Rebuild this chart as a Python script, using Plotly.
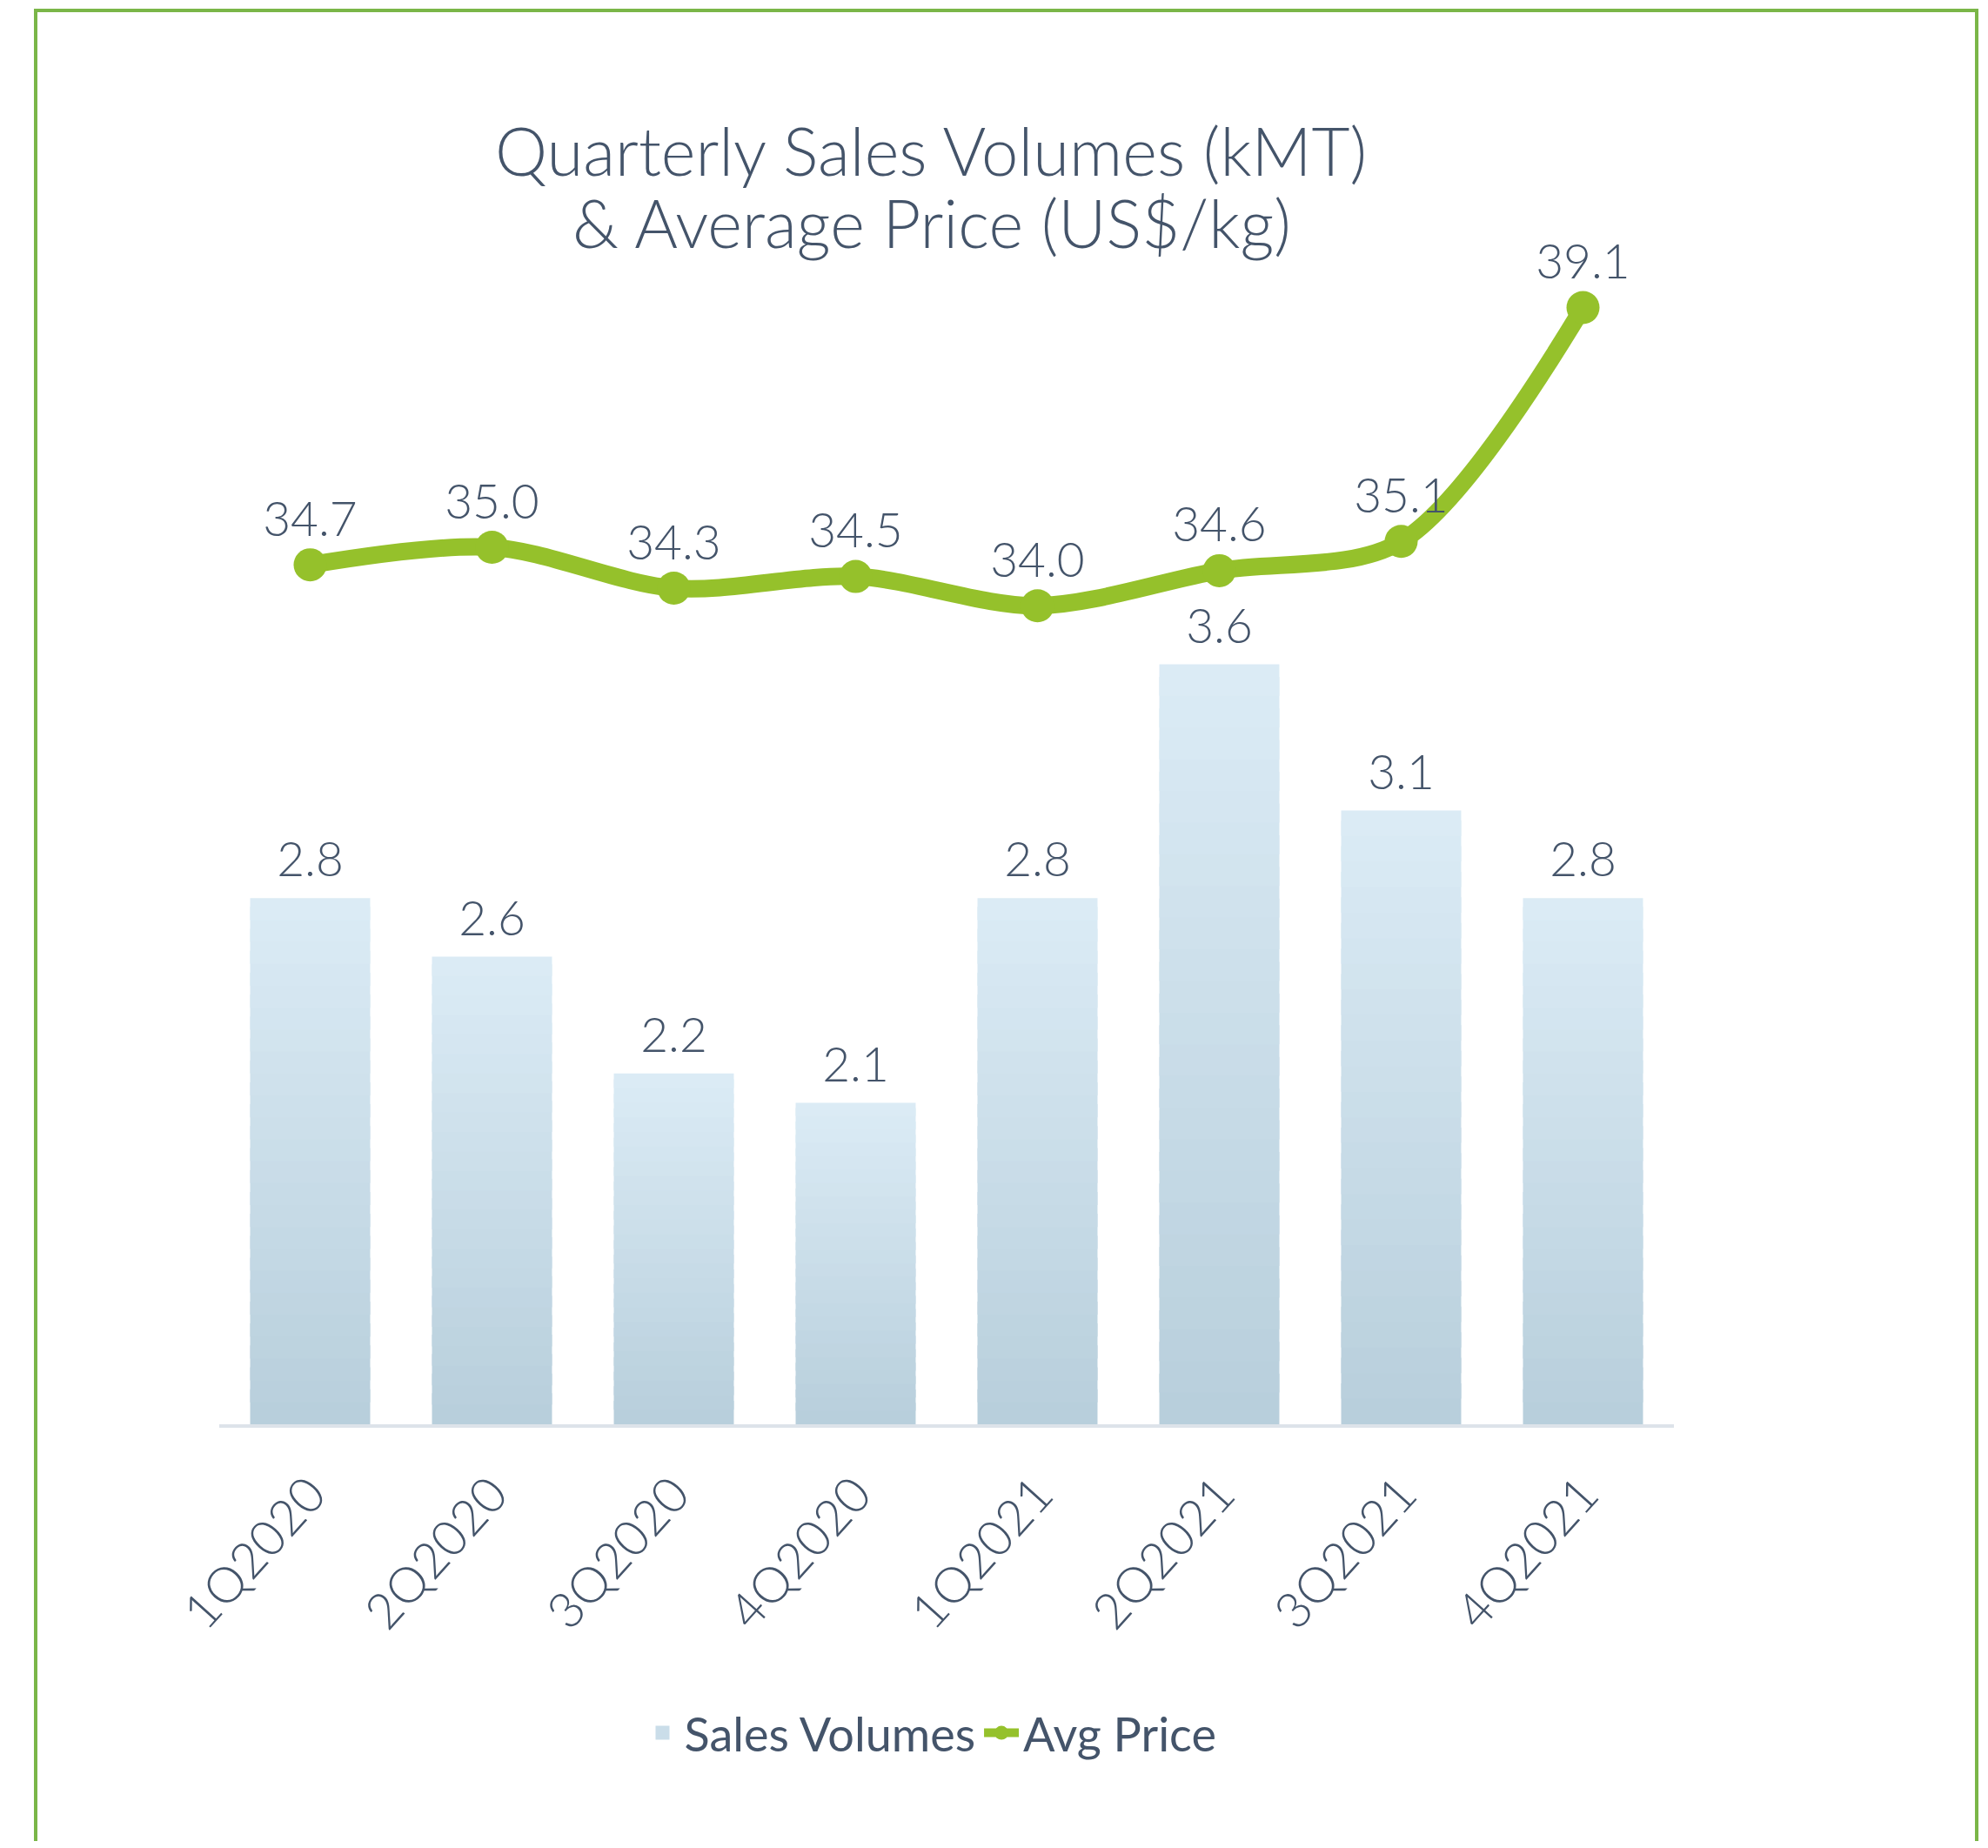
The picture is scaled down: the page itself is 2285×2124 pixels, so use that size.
import plotly.graph_objects as go

# ---- data ----
quarters = ["1Q2020", "2Q2020", "3Q2020", "4Q2020", "1Q2021", "2Q2021", "3Q2021", "4Q2021"]
sales_volumes = [2.8, 2.6, 2.2, 2.1, 2.8, 3.6, 3.1, 2.8]
avg_price = [34.7, 35.0, 34.3, 34.5, 34.0, 34.6, 35.1, 39.1]
title_lines = ["Quarterly Sales Volumes (kMT)", "& Average Price (US$/kg)"]

TEXT = "#44546a"
GREEN = "#95c12b"
BAR_BOTTOM = (0xb8, 0xcf, 0xdc)
BAR_TOP = (0xdb, 0xeb, 0xf5)
Y1_MIN, Y1_MAX = 1.0, 5.0
Y2_MIN, Y2_MAX = 20.0, 40.0
FONT = "Lato"

# page geometry (browser body has an 8px margin)
OFF = 8
W, H = 2285 - 2 * OFF, 2124 - 2 * OFF
L, R, T, B = 252 - OFF, 1924 - OFF, 293 - OFF, 1637 - OFF
pw, ph = R - L, B - T


def pxx(page_x):
    return (page_x - OFF - L) / pw


def pxy(page_y):
    return (B - (page_y - OFF)) / ph


fig = go.Figure()

# gradient bars built from stacked slices of each bar (bottom dark -> top light)
N = 24
for i in range(N):
    t = i / (N - 1)
    c = tuple(int(round(BAR_BOTTOM[k] + (BAR_TOP[k] - BAR_BOTTOM[k]) * t)) for k in range(3))
    color = "rgb(%d,%d,%d)" % c
    bases = [Y1_MIN + (v - Y1_MIN) * i / N for v in sales_volumes]
    frac = 1.0 if i == N - 1 else 1.6
    heights = [(v - Y1_MIN) / N * frac for v in sales_volumes]
    fig.add_trace(go.Bar(
        x=quarters, y=heights, base=bases, width=0.66,
        marker=dict(color=color, line=dict(width=0)),
        name="Sales Volumes", showlegend=False, hoverinfo="skip",
        yaxis="y",
    ))

# legend entry for the bars
fig.add_trace(go.Scatter(
    x=[None], y=[None], mode="markers", name="Sales Volumes",
    marker=dict(symbol="square", size=16, color="#cadde9"),
))

# bar value labels
fig.add_trace(go.Scatter(
    x=quarters, y=sales_volumes, mode="text+markers",
    marker=dict(size=16, opacity=0),
    text=["%.1f" % v for v in sales_volumes], textposition="top center",
    textfont=dict(family=FONT, size=55, color=TEXT, weight=300),
    showlegend=False, hoverinfo="skip", yaxis="y", cliponaxis=False,
))

# price line
fig.add_trace(go.Scatter(
    x=quarters, y=avg_price, mode="lines+markers", name="Avg Price",
    line=dict(color=GREEN, width=20, shape="spline", smoothing=0.9),
    marker=dict(color=GREEN, size=38),
    yaxis="y2", cliponaxis=False,
))

# price labels
fig.add_trace(go.Scatter(
    x=quarters, y=avg_price, mode="text+markers",
    marker=dict(size=30, opacity=0),
    text=["%.1f" % v for v in avg_price], textposition="top center",
    textfont=dict(family=FONT, size=55, color=TEXT, weight=300),
    showlegend=False, hoverinfo="skip", yaxis="y2", cliponaxis=False,
))

annotations = [
    dict(text=title_lines[0], xref="paper", yref="paper", x=pxx(1070), y=pxy(172),
         xanchor="center", yanchor="middle", showarrow=False,
         font=dict(family=FONT, size=76, color=TEXT, weight=300)),
    dict(text=title_lines[1], xref="paper", yref="paper", x=pxx(1071), y=pxy(255),
         xanchor="center", yanchor="middle", showarrow=False,
         font=dict(family=FONT, size=76, color=TEXT, weight=300)),
]

fig.update_layout(
    width=W, height=H,
    margin=dict(l=L, r=W - R, t=T, b=H - B, pad=0),
    paper_bgcolor="white", plot_bgcolor="white",
    barmode="overlay",
    font=dict(family=FONT, color=TEXT),
    annotations=annotations,
    xaxis=dict(
        range=[-0.5, len(quarters) - 0.5],
        showgrid=False, showline=True, linecolor="#dde3ea", linewidth=4,
        ticks="", tickangle=-48, ticklabelstandoff=20,
        tickfont=dict(family=FONT, size=57, color=TEXT, weight=300),
        zeroline=False, fixedrange=True,
    ),
    yaxis=dict(range=[Y1_MIN, Y1_MAX], visible=False, showgrid=False, zeroline=False),
    yaxis2=dict(range=[Y2_MIN, Y2_MAX], overlaying="y", side="right",
                visible=False, showgrid=False, zeroline=False),
    legend=dict(
        orientation="h", x=pxx(1070), xanchor="center",
        y=pxy(1992), yanchor="middle",
        font=dict(family=FONT, size=54, color=TEXT),
        itemsizing="trace", itemwidth=40, bgcolor="rgba(0,0,0,0)",
        traceorder="normal",
    ),
    showlegend=True,
    shapes=[dict(
        type="rect", xref="paper", yref="paper",
        x0=pxx(41), x1=pxx(2272),
        y0=pxy(2200), y1=pxy(12),
        line=dict(color="#7ab648", width=4), fillcolor="rgba(0,0,0,0)", layer="below",
    )],
)

fig.write_html("out.html")
